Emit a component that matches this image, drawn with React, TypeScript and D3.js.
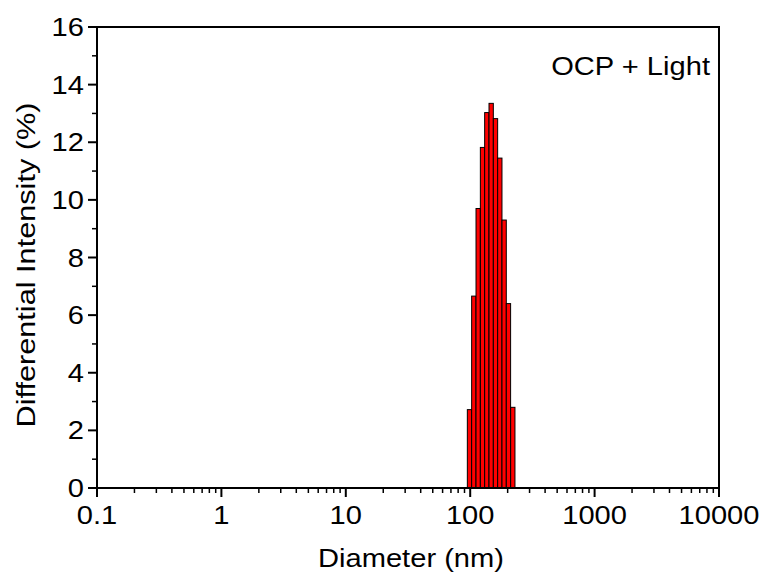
import React from "react";
import * as d3 from "d3";

const diameters = [98.7, 106.9, 115.9, 125.6, 136.0, 147.4, 159.7, 173.0, 187.4, 203.0, 220.0];
const intensities = [2.72, 6.66, 9.7, 11.82, 13.03, 13.35, 12.82, 11.45, 9.3, 6.4, 2.8];
const xTicks = [0.1, 1, 10, 100, 1000, 10000];
const xTickLabels = ["0.1", "1", "10", "100", "1000", "10000"];
const yTicks = [0, 2, 4, 6, 8, 10, 12, 14, 16];

const W = 762, H = 576;
const L = 97, R = 719, T = 27, B = 488;
const FONT = "'Liberation Sans', Arial, sans-serif";
const FS = 26;
const SX = 1.12;

function T2({ x, y, anchor, children, sx = SX, rot = 0 }: any) {
  return (
    <text
      transform={`translate(${x},${y}) rotate(${rot}) scale(${sx},1)`}
      fontSize={FS}
      textAnchor={anchor}
      fill="#000"
    >
      {children}
    </text>
  );
}

export default function App() {
  const x = d3.scaleLog().domain([0.1, 10000]).range([L, R]);
  const y = d3.scaleLinear().domain([0, 16]).range([B, T]);
  const ratio = Math.sqrt(diameters[1] / diameters[0]);
  const minorX: number[] = [];
  for (let dec = 0.1; dec < 10000; dec *= 10) {
    for (let k = 2; k <= 9; k++) minorX.push(dec * k);
  }
  const minorY = d3.range(1, 16, 2);
  return (
    <svg width={W} height={H} style={{ position: "absolute", left: 0, top: 0 }} fontFamily={FONT}>
      <rect x={0} y={0} width={W} height={H} fill="#fff" />
      {diameters.map((d, i) => (
        <rect
          key={i}
          x={x(d / ratio)}
          y={y(intensities[i])}
          width={x(d * ratio) - x(d / ratio)}
          height={y(0) - y(intensities[i])}
          fill="#ff0000"
          stroke="#000"
          strokeWidth={1}
        />
      ))}
      <rect x={L} y={T} width={R - L} height={B - T} fill="none" stroke="#000" strokeWidth={2} />
      {xTicks.map((t, i) => (
        <g key={"xt" + i}>
          <line x1={x(t)} x2={x(t)} y1={B} y2={B + 9} stroke="#000" strokeWidth={2} />
          <T2 x={x(t)} y={524} anchor="middle">{xTickLabels[i]}</T2>
        </g>
      ))}
      {minorX.map((t, i) => (
        <line key={"xm" + i} x1={x(t)} x2={x(t)} y1={B} y2={B + 5} stroke="#000" strokeWidth={1.5} />
      ))}
      {yTicks.map((t) => (
        <g key={"yt" + t}>
          <line x1={L - 9} x2={L} y1={y(t)} y2={y(t)} stroke="#000" strokeWidth={2} />
          <T2 x={84} y={y(t) + 9} anchor="end">{t}</T2>
        </g>
      ))}
      {minorY.map((t) => (
        <line key={"ym" + t} x1={L - 5} x2={L} y1={y(t)} y2={y(t)} stroke="#000" strokeWidth={1.5} />
      ))}
      <T2 x={411} y={567} anchor="middle">Diameter (nm)</T2>
      <T2 x={35} y={265} anchor="middle" rot={-90} sx={1.18}>Differential Intensity (%)</T2>
      <T2 x={710} y={75} anchor="end">OCP + Light</T2>
    </svg>
  );
}
